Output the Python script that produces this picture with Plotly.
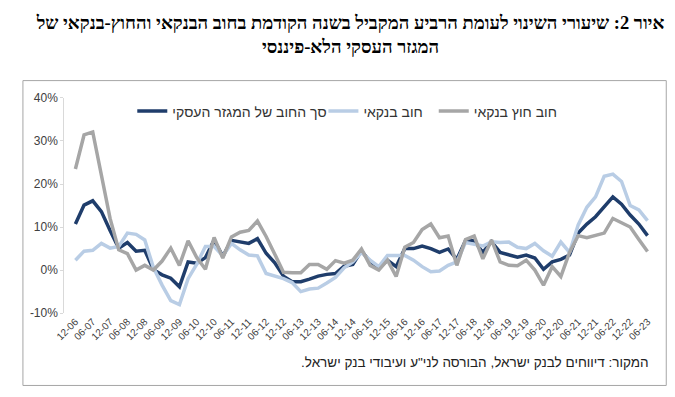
import plotly.graph_objects as go

# ---------------- data ----------------
quarters = [
    "12-06",
    "03-07", "06-07", "09-07", "12-07",
    "03-08", "06-08", "09-08", "12-08",
    "03-09", "06-09", "09-09", "12-09",
    "03-10", "06-10", "09-10", "12-10",
    "03-11", "06-11", "09-11", "12-11",
    "03-12", "06-12", "09-12", "12-12",
    "03-13", "06-13", "09-13", "12-13",
    "03-14", "06-14", "09-14", "12-14",
    "03-15", "06-15", "09-15", "12-15",
    "03-16", "06-16", "09-16", "12-16",
    "03-17", "06-17", "09-17", "12-17",
    "03-18", "06-18", "09-18", "12-18",
    "03-19", "06-19", "09-19", "12-19",
    "03-20", "06-20", "09-20", "12-20",
    "03-21", "06-21", "09-21", "12-21",
    "03-22", "06-22", "09-22", "12-22",
    "03-23", "06-23",
]

tick_labels = [
    "12-06", "06-07", "12-07", "06-08", "12-08", "06-09", "12-09", "06-10",
    "12-10", "06-11", "12-11", "06-12", "12-12", "06-13", "12-13", "06-14",
    "12-14", "06-15", "12-15", "06-16", "12-16", "06-17", "12-17", "06-18",
    "12-18", "06-19", "12-19", "06-20", "12-20", "06-21", "12-21", "06-22",
    "12-22", "06-23",
]

# total debt of the business sector (%)
total_debt = [
    10.7, 15.1, 16.1, 13.6, 9.2, 5.1, 6.4, 4.4, 4.6, 0.1,
    -1.1, -1.9, -3.9, 1.9, 1.6, 2.9, 7.0, 3.2, 6.9, 6.5,
    6.2, 7.3, 3.9, 1.7, -1.4, -2.7, -2.7, -2.1, -1.4, -1.0,
    -0.8, 0.9, 1.3, 4.5, 1.9, 0.5, 2.3, 0.8, 5.0, 5.0,
    5.6, 5.0, 4.1, 4.9, 2.5, 6.8, 6.8, 4.1, 6.6, 4.1,
    3.6, 3.0, 3.5, 2.8, 0.2, 1.9, 2.5, 3.5, 8.6, 10.7,
    12.4, 14.6, 17.0, 15.3, 12.8, 10.7, 8.0,
]

# bank debt (%)
bank_debt = [
    2.3, 4.4, 4.6, 6.2, 5.1, 5.5, 8.6, 8.3, 7.0, 0.6,
    -3.5, -7.1, -8.0, -2.0, 1.4, 5.5, 5.5, 3.3, 6.2, 4.7,
    3.5, 3.3, -0.8, -1.4, -2.0, -2.9, -5.0, -4.4, -4.2, -3.0,
    -1.7, 0.5, 1.9, 4.1, 2.3, 0.8, 3.4, 3.4, 3.4, 2.3,
    0.8, -0.4, -0.2, 1.1, 1.9, 6.4, 6.0, 5.6, 6.6, 6.4,
    6.5, 5.3, 5.0, 6.2, 4.5, 3.2, 6.5, 4.1, 10.5, 14.6,
    17.0, 21.8, 22.3, 20.6, 15.0, 14.0, 11.5,
]

# non-bank debt (%)
nonbank_debt = [
    23.5, 31.4, 32.1, 22.0, 12.0, 4.7, 3.8, 0.0, 1.1, 0.0,
    2.1, 5.1, 1.1, 6.8, 2.9, 0.2, 7.6, 2.8, 7.7, 8.8,
    9.2, 11.4, 7.8, 3.7, -0.5, -0.6, -0.6, 1.3, 1.3, 0.2,
    2.2, 1.6, 2.3, 4.9, 1.1, 0.0, 2.3, -1.5, 5.3, 6.4,
    9.4, 10.7, 7.5, 7.9, 1.1, 7.1, 7.9, 2.6, 7.0, 1.9,
    1.1, 1.0, 2.3, 0.0, -3.5, 0.8, -1.5, 4.1, 8.0, 7.5,
    8.0, 8.6, 12.0, 10.9, 10.0, 7.1, 4.3,
]

y_tick_vals = [-10, 0, 10, 20, 30, 40]
y_tick_text = ["-10%", "0%", "10%", "20%", "30%", "40%"]

series_names = ["סך החוב של המגזר העסקי", "חוב בנקאי", "חוב חוץ בנקאי"]
series_colors = ["#1F3D6B", "#B9CDE5", "#A6A6A6"]

title_text = ("איור 2: שיעורי השינוי לעומת הרביע המקביל בשנה הקודמת בחוב הבנקאי והחוץ-בנקאי של"
              "<br>המגזר העסקי הלא-פיננסי")
source_text = "המקור: דיווחים לבנק ישראל, הבורסה לני\"ע ועיבודי בנק ישראל.\u200f"

# ---------------- layout geometry ----------------
W, H = 675, 397
px_left, px_right, px_top, px_bottom = 47, 650, 86, 309
xdom = [px_left / W, px_right / W]
ydom = [1 - px_bottom / H, 1 - px_top / H]
y_range = [-10, 40]
x_range = [-1.28, len(quarters) - 1 + 1.25]
zero_pos = ydom[0] + (0 - y_range[0]) / (y_range[1] - y_range[0]) * (ydom[1] - ydom[0])

SANS = "Liberation Sans, Arial, sans-serif"
SERIF = "Liberation Serif, Times New Roman, serif"

fig = go.Figure()
series = [total_debt, bank_debt, nonbank_debt]
legend_ids = ["legend", "legend2", "legend3"]
for vals, name, color, lg in zip(series, series_names, series_colors, legend_ids):
    fig.add_trace(go.Scatter(
        x=quarters, y=vals, mode="lines", name=name,
        line=dict(color=color, width=3.5),
        legend=lg, showlegend=True, hoverinfo="skip",
    ))

legend_common = dict(
    orientation="h", yanchor="middle", xanchor="left",
    y=1 - 100 / H, bgcolor="rgba(0,0,0,0)", borderwidth=0,
    font=dict(family=SANS, size=14, color="#333333"),
    itemwidth=30, visible=True,
)

fig.update_layout(
    width=W, height=H, autosize=False, showlegend=True,
    margin=dict(l=0, r=0, t=0, b=0),
    paper_bgcolor="white", plot_bgcolor="white",
    title=dict(
        text=title_text, x=0.5, xanchor="center", xref="paper",
        y=1 - 21 / H, yref="container", yanchor="middle",
        font=dict(family=SERIF, size=18.5, color="black", weight="bold"),
    ),
    legend=dict(x=116 / W, **legend_common),
    legend2=dict(x=310 / W, **legend_common),
    legend3=dict(x=422 / W, **legend_common),
    xaxis=dict(
        type="category", domain=xdom, range=x_range,
        tickmode="array", tickvals=tick_labels, ticktext=tick_labels,
        tickangle=-45, tickfont=dict(family=SANS, size=10, color="#404040"),
        showline=False, ticks="", showgrid=False, zeroline=False,
    ),
    xaxis2=dict(
        overlaying="x", anchor="free", position=zero_pos, domain=xdom,
        range=x_range, tickmode="array",
        tickvals=list(range(0, len(quarters), 2)),
        showticklabels=False, ticks="outside", ticklen=4,
        tickcolor="#D9D9D9", tickwidth=1,
        showline=True, linecolor="#D9D9D9", linewidth=1.5,
        showgrid=False, zeroline=False,
    ),
    yaxis=dict(
        domain=ydom, range=y_range,
        tickmode="array", tickvals=y_tick_vals, ticktext=y_tick_text,
        tickfont=dict(family=SANS, size=12, color="#404040"),
        showline=True, linecolor="#D9D9D9", linewidth=1,
        ticks="outside", ticklen=3, tickcolor="#D9D9D9",
        showgrid=False, zeroline=False,
    ),
    shapes=[dict(
        type="rect", xref="paper", yref="paper",
        x0=5 / W, x1=658 / W, y0=1 - 384 / H, y1=1 - 68 / H,
        line=dict(color="#A6A6A6", width=1), fillcolor="rgba(0,0,0,0)",
        layer="below",
    )],
    annotations=[dict(
        text=source_text, xref="paper", yref="paper",
        x=643 / W, y=1 - 360 / H, xanchor="right", yanchor="middle",
        showarrow=False, font=dict(family=SANS, size=13.5, color="#222222"),
    )],
)

fig.write_html("out.html")
